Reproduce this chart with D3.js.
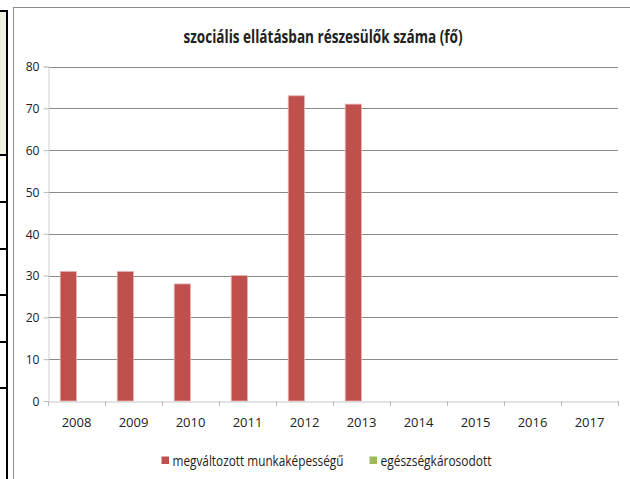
<!DOCTYPE html>
<html>
<head>
<meta charset="utf-8">
<script src="https://cdn.jsdelivr.net/npm/d3@7"></script>
<style>
  body { margin: 0; background: #fff; }
  text { font-family: "Open Sans", sans-serif; fill: #222; }
</style>
</head>
<body>
<svg id="chart"></svg>
<script>
var years = ["2008", "2009", "2010", "2011", "2012", "2013", "2014", "2015", "2016", "2017"];
var seriesNames = ["megváltozott munkaképességű", "egészségkárosodott"];
var changedAbility = [31, 31, 28, 30, 73, 71, null, null, null, null];
var healthDamaged = [null, null, null, null, null, null, null, null, null, null];
var yTicks = [0, 10, 20, 30, 40, 50, 60, 70, 80];
var colors = ["#c0504d", "#9bbb59"];

var w = 630, h = 479;
var svg = d3.select("#chart").attr("width", w).attr("height", h);

// leftover table bit on the left side of the picture
svg.append("rect").attr("x", 0).attr("y", 11).attr("width", 7).attr("height", 144).attr("fill", "#eef0e2");
svg.append("line").attr("x1", 0).attr("x2", 8).attr("y1", 11).attr("y2", 11).attr("stroke", "#000").attr("stroke-width", 2);
svg.append("line").attr("x1", 7).attr("x2", 7).attr("y1", 10).attr("y2", h).attr("stroke", "#000").attr("stroke-width", 2);
[155, 202, 249, 295, 342, 388].forEach(function(y) {
  svg.append("line").attr("x1", 0).attr("x2", 8).attr("y1", y).attr("y2", y).attr("stroke", "#000").attr("stroke-width", 2);
});

// chart frame
svg.append("rect").attr("x", 13.5).attr("y", 7.5).attr("width", 640).attr("height", 500)
  .attr("fill", "#fff").attr("stroke", "#8c8c8c").attr("stroke-width", 1);

var x = d3.scaleBand().domain(years).range([48, 618]).paddingInner(0).paddingOuter(0);
var y = d3.scaleLinear().domain([0, 80]).range([401, 66.5]);

// bar positions inside a category (Excel-like gap width 150%)
var bw = x.bandwidth() / 3.5;
var xs = d3.scaleBand().domain([0, 1]).range([bw * 0.75, bw * 2.75]);

svg.append("text")
  .attr("x", 323).attr("y", 42.5)
  .attr("text-anchor", "middle")
  .attr("textLength", 279).attr("lengthAdjust", "spacingAndGlyphs")
  .style("font-size", "17.5px").style("font-weight", "bold")
  .text("szociális ellátásban részesülők száma (fő)");

// gridlines
svg.append("g").selectAll("line").data(yTicks.slice(1)).join("line")
  .attr("x1", 48).attr("x2", 618)
  .attr("y1", function(d) { return Math.round(y(d)) + 0.5; })
  .attr("y2", function(d) { return Math.round(y(d)) + 0.5; })
  .attr("stroke", "#8a8a8a");

// y axis
var yAxis = svg.append("g").attr("transform", "translate(48.5,0)")
  .call(d3.axisLeft(y).tickValues(yTicks).tickSize(5).tickPadding(5));
yAxis.select(".domain").attr("stroke", "#d0d0d0");
yAxis.selectAll(".tick line").attr("stroke", "#bbb");
yAxis.selectAll("text").style("font-size", "13.5px").style("fill", "#222").style("font-family", "Open Sans, sans-serif")
  .attr("transform", "scale(0.9,1)");

// bars
var series = [changedAbility, healthDamaged];
series.forEach(function(vals, si) {
  svg.append("g").selectAll("rect").data(vals.map(function(v, i) { return { year: years[i], v: v }; })
    .filter(function(d) { return d.v != null; }))
    .join("rect")
    .attr("x", function(d) { return x(d.year) + xs(si); })
    .attr("width", xs.bandwidth())
    .attr("y", function(d) { return y(d.v); })
    .attr("height", function(d) { return y(0) - y(d.v); })
    .attr("fill", colors[si])
    .attr("stroke", "#e8b4b3").attr("stroke-width", 0.8);
});

// x axis
var xAxis = svg.append("g").attr("transform", "translate(0,401.5)")
  .call(d3.axisBottom(x).tickSize(0).tickPadding(16));
xAxis.select(".domain").attr("stroke", "#c8c8c8");
xAxis.selectAll("text").style("font-size", "13px").style("fill", "#222").style("font-family", "Open Sans, sans-serif");
svg.append("g").selectAll("line").data(years.concat(["end"])).join("line")
  .attr("x1", function(d, i) { return Math.round(48 + i * x.step()) + 0.5; })
  .attr("x2", function(d, i) { return Math.round(48 + i * x.step()) + 0.5; })
  .attr("y1", 401).attr("y2", 406)
  .attr("stroke", "#bbb");

// legend
var legendX = [161.5, 369.5];
var legendLen = [171, 111];
var lg = svg.append("g").selectAll("g").data(seriesNames).join("g")
  .attr("transform", function(d, i) { return "translate(" + legendX[i] + ",456.5)"; });
lg.append("rect").attr("width", 7.5).attr("height", 7.5).attr("fill", function(d, i) { return colors[i]; });
lg.append("text").attr("x", 11).attr("y", 9)
  .attr("textLength", function(d, i) { return legendLen[i]; }).attr("lengthAdjust", "spacingAndGlyphs")
  .style("font-size", "15px")
  .text(function(d) { return d; });
</script>
</body>
</html>
